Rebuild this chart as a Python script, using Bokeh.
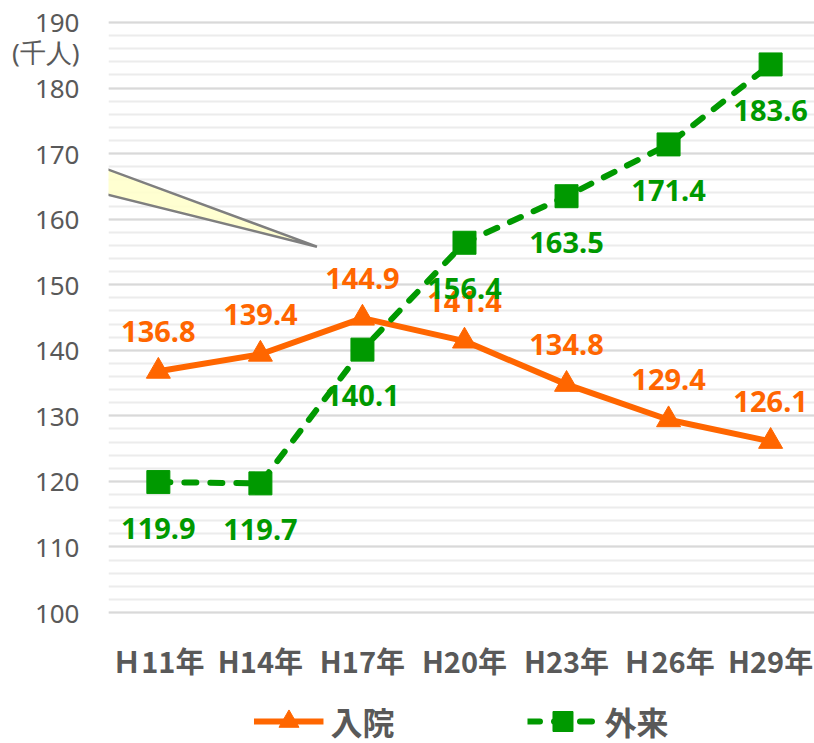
from bokeh.plotting import figure
from bokeh.layouts import column
from bokeh.models import (Range1d, FixedTicker, SingleIntervalTicker, Legend, LegendItem,
                          PolyAnnotation, ColumnDataSource)
from bokeh.core.properties import value
from bokeh.embed import file_html
from bokeh.resources import INLINE

# ---- data ----
years = ["Ｈ11年", "H14年", "H17年", "H20年", "H23年", "Ｈ26年", "H29年"]
inpatient = [136.8, 139.4, 144.9, 141.4, 134.8, 129.4, 126.1]   # 入院
outpatient = [119.9, 119.7, 140.1, 156.4, 163.5, 171.4, 183.6]  # 外来
y_ticks = [100, 110, 120, 130, 140, 150, 160, 170, 180, 190]
unit_label = "(千人)"
unit_pos = 185.5
series_names = ["入院", "外来"]

ORANGE = "#FF6600"
GREEN = "#009900"
GRAY = "#595959"

xs = list(range(len(years)))
src = ColumnDataSource(dict(
    x=xs,
    inp=inpatient,
    out=outpatient,
    inp_lab=[f"{v:.1f}" for v in inpatient],
    out_lab=[f"{v:.1f}" for v in outpatient],
))

p = figure(width=814, height=689, output_backend="svg", toolbar_location=None,
           x_range=Range1d(-0.4886, 6.430), y_range=Range1d(99.7, 190.3),
           min_border_left=106, min_border_right=0, min_border_top=20, min_border_bottom=75)
p.outline_line_color = None
p.background_fill_color = "white"
p.border_fill_color = "white"

# x axis
p.xaxis.ticker = FixedTicker(ticks=xs)
p.xaxis.major_label_overrides = {i: lab for i, lab in enumerate(years)}
p.xaxis.axis_line_color = None
p.xaxis.major_tick_line_color = None
p.xaxis.minor_tick_line_color = None
p.xaxis.major_tick_out = 0
p.xaxis.major_tick_in = 0
p.xaxis.major_label_standoff = 24
p.xaxis.major_label_text_font = "Noto Sans CJK JP"
p.xaxis.major_label_text_font_style = "bold"
p.xaxis.major_label_text_font_size = "29px"
p.xaxis.major_label_text_color = GRAY

# y axis (tick values plus the unit caption)
p.yaxis.ticker = FixedTicker(ticks=y_ticks + [unit_pos])
p.yaxis.major_label_overrides = {unit_pos: unit_label}
p.yaxis.axis_line_color = None
p.yaxis.major_tick_line_color = None
p.yaxis.minor_tick_line_color = None
p.yaxis.major_tick_out = 0
p.yaxis.major_tick_in = 0
p.yaxis.major_label_standoff = 29
p.yaxis.major_label_text_align = "right"
p.yaxis.major_label_text_font = "Noto Sans"
p.yaxis.major_label_text_font_size = "26px"
p.yaxis.major_label_text_color = GRAY

p.xgrid.visible = False
p.ygrid.ticker = SingleIntervalTicker(interval=10, num_minor_ticks=5)
p.ygrid.grid_line_color = "#d9d9d9"
p.ygrid.grid_line_width = 2
p.ygrid.minor_grid_line_color = "#ececec"
p.ygrid.minor_grid_line_width = 2

# callout pointer (decoration)
callout = PolyAnnotation(xs=[-1.72, 1.554, -1.72], ys=[174.62, 155.80, 168.46],
                         fill_color="#FFFFCC", fill_alpha=0.9,
                         line_color="#7f7f7f", line_alpha=1.0, line_width=2.5)
p.add_layout(callout)

# series
line_in = dict(line_color=ORANGE, line_width=6, line_join="round")
line_out = dict(line_color=GREEN, line_width=6, line_dash="12 14", line_cap="round",
                line_join="round")
p.line("x", "inp", source=src, **line_in)
p.scatter("x", "inp", source=src, marker="triangle", size=24, color=ORANGE)
p.line("x", "out", source=src, **line_out)
p.scatter("x", "out", source=src, marker="square", size=23, color=GREEN)

p.text("x", "inp", text="inp_lab", source=src, y_offset=-40, text_align="center",
       text_baseline="middle", text_font=value("Noto Sans"), text_font_style="bold",
       text_font_size="29px", text_color=ORANGE)
p.text("x", "out", text="out_lab", source=src, y_offset=46, text_align="center",
       text_baseline="middle", text_font=value("Noto Sans"), text_font_style="bold",
       text_font_size="29px", text_color=GREEN)

# ---- legend strip below the chart ----
leg = figure(width=814, height=54, output_backend="svg", toolbar_location=None,
             x_axis_location=None, y_axis_location=None,
             x_range=Range1d(10, 11), y_range=Range1d(10, 11),
             min_border_left=108, min_border_right=0, min_border_top=10, min_border_bottom=0)
leg.outline_line_color = None
leg.grid.visible = False
hidden = ColumnDataSource(dict(x=[0], y=[0]))
l1 = leg.line("x", "y", source=hidden, **line_in)
m1 = leg.scatter("x", "y", source=hidden, marker="triangle", color=ORANGE)
l2 = leg.line("x", "y", source=hidden, **line_out)
m2 = leg.scatter("x", "y", source=hidden, marker="square", color=GREEN)

legend = Legend(items=[LegendItem(label=series_names[0], renderers=[l1, m1]),
                       LegendItem(label=series_names[1], renderers=[l2, m2])],
                orientation="horizontal", location="center",
                glyph_width=70, glyph_height=50, label_standoff=7, spacing=133,
                padding=0, margin=0, border_line_color=None, background_fill_alpha=0,
                label_text_font="Noto Sans CJK JP", label_text_font_style="bold",
                label_text_font_size="32px", label_text_color=GRAY)
leg.add_layout(legend)

page = column(p, leg, spacing=0)
open("out.html", "w").write(file_html(page, INLINE))
